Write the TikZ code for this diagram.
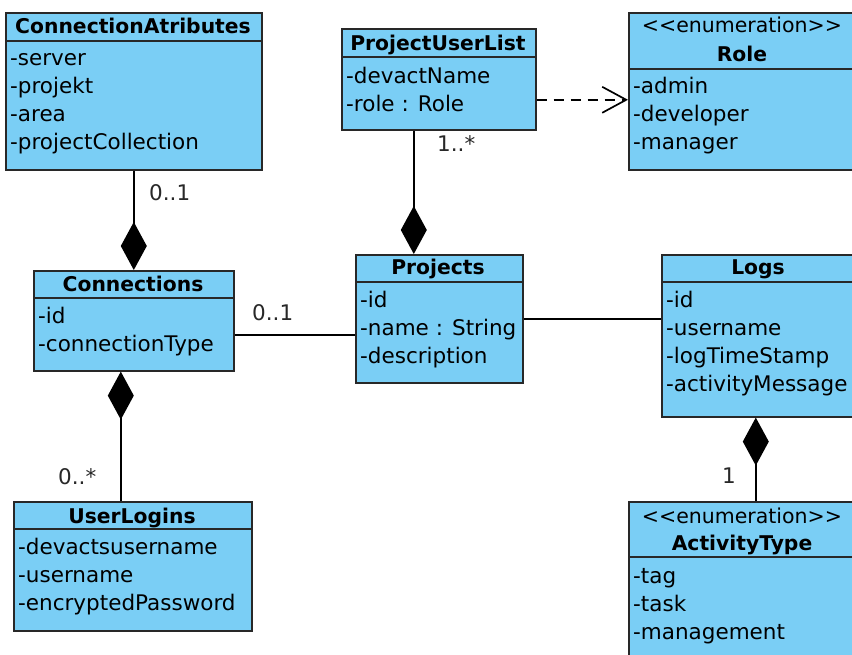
\documentclass[tikz,border=0pt]{standalone}
\usepackage{fontspec}
\setmainfont{DejaVu Sans}
\usetikzlibrary{arrows.meta}
\definecolor{clsfill}{RGB}{122,206,245}
\definecolor{clsline}{RGB}{40,40,40}
\newcommand{\umlfont}{\fontsize{21.5}{28}\selectfont}
\newcommand{\umlbold}{\fontsize{20.3}{28}\selectfont\bfseries}
\newcommand{\enumtag}{<\kern0pt<enumeration>\kern0pt>}

\begin{document}
\begin{tikzpicture}[x=1pt,y=-1pt,
    clsbox/.style={rectangle,draw=clsline,fill=clsfill,line width=1.6pt,inner sep=0pt,anchor=north west},
    divider/.style={draw=clsline,line width=1.6pt},
    clsname/.style={anchor=base,inner sep=0pt,font=\umlbold},
    stereo/.style={anchor=base,inner sep=0pt,font=\fontsize{20.5}{28}\selectfont},
    attr/.style={anchor=north west,align=left,inner sep=0pt,yshift=19.6pt,font=\umlfont},
    mult/.style={anchor=base west,inner sep=0pt,font=\umlfont,text=clsline},
    assoc/.style={draw=black,line width=1.7pt},
    comp/.style={assoc,-{Diamond[length=48pt,width=26pt,fill=black]}},
    dep/.style={assoc,dash pattern=on 10pt off 7pt,-{Straight Barb[length=24pt,width=26pt]}}]
  \useasboundingbox (0,0) rectangle (852,655);
  \clip (0,0) rectangle (852,655);

  % ConnectionAtributes
  \node[clsbox,minimum width=256,minimum height=157] (conAttr) at (5,12) {};
  \draw[divider] (conAttr.north west) ++(0,29) -- ++(256,0);
  \node[clsname] (conAttrName) at (133,34) {ConnectionAtributes};
  \node[attr] (conAttrAttr) at (10,65) {\strut-server\\\strut-projekt\\\strut-area\\\strut-projectCollection};

  % ProjectUserList
  \node[clsbox,minimum width=194,minimum height=101] (projUser) at (341,28) {};
  \draw[divider] (projUser.north west) ++(0,29) -- ++(194,0);
  \node[clsname] (projUserName) at (438,51) {ProjectUserList};
  \node[attr] (projUserAttr) at (346,83) {\strut-devactName\\\strut-role : Role};

  % Role
  \node[clsbox,minimum width=228,minimum height=157] (role) at (628,12) {};
  \draw[divider] (role.north west) ++(0,57) -- ++(228,0);
  \node[stereo] (roleStereo) at (742,33) {\enumtag};
  \node[clsname] (roleName) at (742,62) {Role};
  \node[attr] (roleAttr) at (633,93) {\strut-admin\\\strut-developer\\\strut-manager};

  % Connections
  \node[clsbox,minimum width=200,minimum height=100] (conn) at (33,270) {};
  \draw[divider] (conn.north west) ++(0,28) -- ++(200,0);
  \node[clsname] (connName) at (133,292) {Connections};
  \node[attr] (connAttr) at (38,323) {\strut-id\\\strut-connectionType};

  % Projects
  \node[clsbox,minimum width=167,minimum height=128] (proj) at (355,254) {};
  \draw[divider] (proj.north west) ++(0,28) -- ++(167,0);
  \node[clsname] (projName) at (438,275) {Projects};
  \node[attr] (projAttr) at (360,307) {\strut-id\\\strut-name : String\\\strut-description};

  % Logs
  \node[clsbox,minimum width=195,minimum height=162] (logs) at (661,254) {};
  \draw[divider] (logs.north west) ++(0,28) -- ++(195,0);
  \node[clsname] (logsName) at (758,275) {Logs};
  \node[attr] (logsAttr) at (666,307) {\strut-id\\\strut-username\\\strut-logTimeStamp\\\strut-activityMessage};

  % UserLogins
  \node[clsbox,minimum width=238,minimum height=129] (userLog) at (13,501) {};
  \draw[divider] (userLog.north west) ++(0,28) -- ++(238,0);
  \node[clsname] (userLogName) at (132,523) {UserLogins};
  \node[attr] (userLogAttr) at (18,554) {\strut-devactsusername\\\strut-username\\\strut-encryptedPassword};

  % ActivityType
  \node[clsbox,minimum width=228,minimum height=180] (actType) at (628,501) {};
  \draw[divider] (actType.north west) ++(0,56) -- ++(228,0);
  \node[stereo] (actTypeStereo) at (742,523) {\enumtag};
  \node[clsname] (actTypeName) at (742,550) {ActivityType};
  \node[attr] (actTypeAttr) at (633,583) {\strut-tag\\\strut-task\\\strut-management};

  % connectors
  \draw[comp] (conAttr.south) -- (conn.north);
  \draw[comp] ([xshift=-25pt]projUser.south) -- ([xshift=-25pt]projUser.south |- proj.north);
  \draw[comp] ([xshift=-12pt]userLog.north) -- ([xshift=-12pt]userLog.north |- conn.south);
  \draw[comp] ([xshift=13pt]actType.north) -- ([xshift=13pt]actType.north |- logs.south);
  \draw[dep] ([yshift=-20.5pt]projUser.east) -- ([yshift=-20.5pt]projUser.east -| role.west);
  \draw[assoc] ([yshift=-14pt]conn.east) -- ([yshift=-14pt]conn.east -| proj.west);
  \draw[assoc] (proj.east) -- (proj.east -| logs.west);

  % multiplicities
  \node[mult] (m1) at (149,201) {0..1};
  \node[mult] (m2) at (437,152) {1..*};
  \node[mult] (m3) at (252,320) {0..1};
  \node[mult] (m4) at (58,484) {0..*};
  \node[mult] (m5) at (722,483) {1};
\end{tikzpicture}
\end{document}
